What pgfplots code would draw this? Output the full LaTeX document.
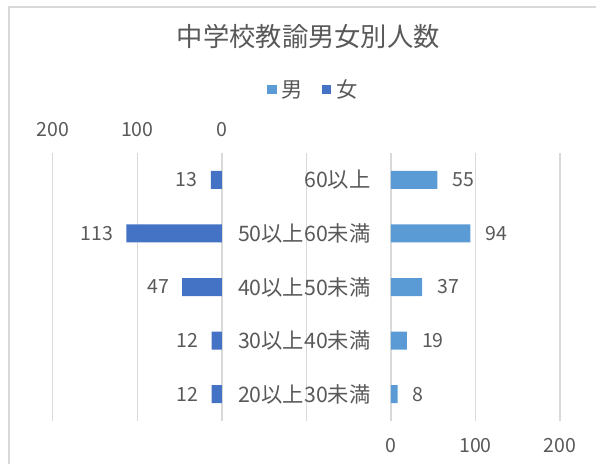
\documentclass[border=0pt]{standalone}
\usepackage{fontspec}
\setmainfont{Noto Sans CJK JP}
\usepackage{pgfplots}
\pgfplotsset{compat=1.18}
\definecolor{male}{HTML}{5B9BD5}
\definecolor{female}{HTML}{4472C4}
\definecolor{txt}{HTML}{595959}
\definecolor{grd}{HTML}{D9D9D9}
\newcommand\fs{\fontsize{19.5}{23}\selectfont}
\newcommand\fc{\fontsize{21.3}{25}\selectfont}
\pgfplotsset{
  common/.style={
    scale only axis, width=507.3pt, height=268pt,
    at={(0pt,0pt)}, anchor=south west,
    xmin=-400, xmax=200, ymin=0.5, ymax=5.5,
    xbar, bar width=18pt, bar shift=0pt,
    axis line style={draw=none}, major tick length=0pt,
    /pgf/number format/assume math mode=true,
    tick label style={text=txt, font=\fs},
  }
}
\begin{document}
\begin{tikzpicture}
\path[use as bounding box] (-52.7pt,-42pt) rectangle (543.3pt,421pt);
\draw[grd, line width=1.6pt] (-43.7pt,-60pt) -- (-43.7pt,413.7pt) -- (560pt,413.7pt);
% male axis (right)
\begin{axis}[common,
  xtick={-400,-300,-200,-100,0,100,200},
  xticklabels={,,,,0,100,200},
  xmajorgrids, grid style={grd, line width=1.4pt},
  xticklabel pos=lower,
  xticklabel style={anchor=center, yshift=-25pt},
  ytick={1,2,3,4,5},
  yticklabels={20以上30未満,30以上40未満,40以上50未満,50以上60未満,60以上},
  yticklabel style={anchor=east, xshift=318pt, inner sep=0pt, font=\fc},
  title={中学校教諭男女別人数},
  title style={at={(0.504,1.414)}, anchor=center, font=\fontsize{26.3}{31}\selectfont, text=txt},
  legend image code/.code={\fill[#1] (0pt,-4.7pt) rectangle (9.4pt,4.7pt);},
  legend style={draw=none, fill=none, at={(0.514,1.237)}, anchor=center,
    legend columns=2, font=\fc, text=txt,
    /tikz/every odd column/.append style={column sep=3pt},
    /tikz/every even column/.append style={column sep=17pt}},
]
\addplot[fill=male, draw=none, nodes near coords,
  every node near coord/.append style={anchor=west, xshift=15pt, inner sep=0pt, text=txt, font=\fs}]
  coordinates {(8,1) (19,2) (37,3) (94,4) (55,5)};
\addlegendentry{男}
\addlegendimage{fill=female, draw=none}
\addlegendentry{女}
\end{axis}
% female axis (left, reversed)
\begin{axis}[common,
  x dir=reverse,
  xtick={0,100,200},
  xticklabel pos=upper,
  xticklabel style={anchor=center, yshift=23pt},
  ytick=\empty,
]
\addplot[fill=female, draw=none, nodes near coords,
  every node near coord/.append style={anchor=east, xshift=-13pt, inner sep=0pt, text=txt, font=\fs}]
  coordinates {(12,1) (12,2) (47,3) (113,4) (13,5)};
\end{axis}
\end{tikzpicture}
\end{document}
